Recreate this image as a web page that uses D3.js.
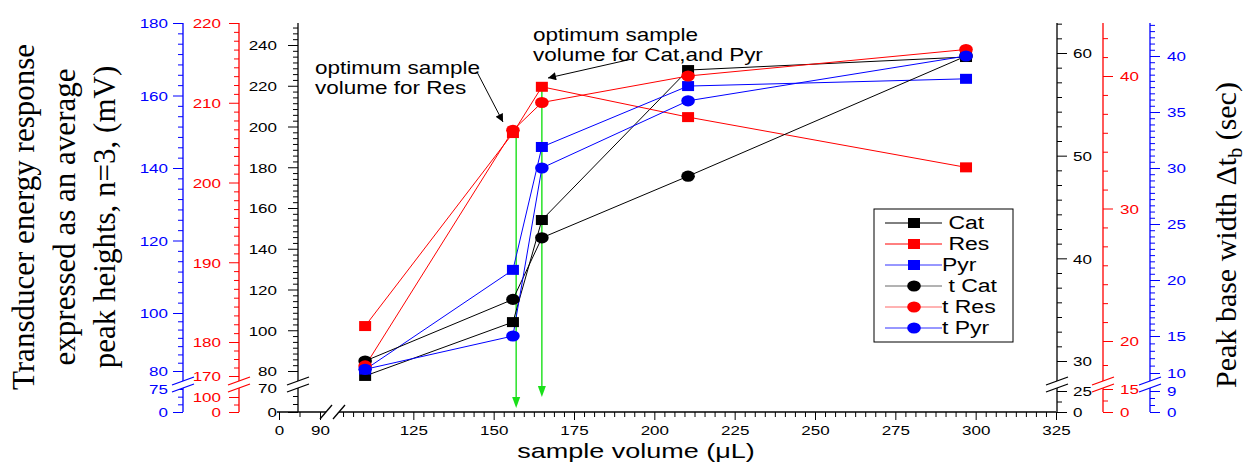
<!DOCTYPE html>
<html>
<head>
<meta charset="utf-8">
<script src="https://cdn.jsdelivr.net/npm/d3@7"></script>
<style>
  body { margin: 0; background: #fff; }
  svg { display: block; }
</style>
</head>
<body>
<svg id="chart" width="1245" height="463"></svg>
<script>
// ---------- data ----------
// sample volumes (µL)
const volumes = [110, 156, 165, 210.5, 297];

// average peak heights, n=3 (mV)
const catHeight = [77.1, 104, 154.1, 227.7, 234.1];
const resHeight = [182.0, 206.2, 212.0, 208.2, 201.9];
const pyrHeight = [80.5, 111.9, 145.8, 162.6, 164.6];

// peak base widths Δtb (sec)
const catWidth = [30, 36, 42, 48, 59.7];
const resWidth = [17.4, 35.9, 38, 40, 42];
const pyrWidth = [10.5, 15, 30, 36, 40];

// optimum sample volumes marked with vertical arrows
const optimumVolumes = [157, 165];

// tick labels
const xTicks = [0, 90, 125, 150, 175, 200, 225, 250, 275, 300, 325];
const catHeightTicks = [0, 70, 80, 100, 120, 140, 160, 180, 200, 220, 240];
const resHeightTicks = [0, 100, 170, 180, 190, 200, 210, 220];
const pyrHeightTicks = [0, 75, 80, 100, 120, 140, 160, 180];
const catWidthTicks = [0, 25, 30, 40, 50, 60];
const resWidthTicks = [0, 15, 20, 30, 40];
const pyrWidthTicks = [0, 9, 10, 15, 20, 25, 30, 35, 40];

const legendLabels = [" Cat", " Res", "Pyr", " t Cat", "t Res", "t Pyr"];

// ---------- layout ----------
const svg = d3.select("#chart");
const yBottom = 412, yTop = 23;
const BLUE = "#0000ff", RED = "#ff0000", BLACK = "#000000";
const SANS = "'Liberation Sans', Arial, sans-serif";
const SERIF = "'Liberation Serif', 'Times New Roman', serif";
const SQUASH = 0.78;   // text in this figure is rendered wide and flat
const breakY = 385;

// x axis: short segment 0–90, break, then 100–325
const x = d3.scaleLinear()
  .domain([0, 90, 100, 325])
  .range([279, 320, 333, 1056]);

// broken y axes, each a piecewise-linear scale
const axes = {
  pyrL: { x: 183, side: "left", color: BLUE, pad: 5, ticks: pyrHeightTicks,
          divs: [3, 1, 7, 7, 7, 7, 7],
          scale: d3.scaleLinear().domain([0, 75, 80, 100, 180]).range([412, 389, 371, 313, 23]) },
  resL: { x: 239, side: "left", color: RED, pad: 8, ticks: resHeightTicks,
          divs: [2, 1, 4, 9, 9, 9, 9],
          scale: d3.scaleLinear().domain([0, 100, 170, 180, 220]).range([412, 397, 376, 342, 23]) },
  catL: { x: 298, side: "left", color: BLACK, pad: 11, ticks: catHeightTicks,
          divs: [3, 1, 7, 7, 7, 7, 7, 7, 7, 7],
          scale: d3.scaleLinear().domain([0, 70, 80, 240]).range([412, 388, 371, 45]) },
  catR: { x: 1057, side: "right", color: BLACK, pad: 6, ticks: catWidthTicks,
          divs: [2, 1, 7, 7, 7],
          scale: d3.scaleLinear().domain([0, 25, 30, 60]).range([412, 391, 361, 53]) },
  resR: { x: 1103, side: "right", color: RED, pad: 7, ticks: resWidthTicks,
          divs: [2, 2, 7, 7],
          scale: d3.scaleLinear().domain([0, 15, 20, 40]).range([412, 389, 341, 76]) },
  pyrR: { x: 1150, side: "right", color: BLUE, pad: 7, ticks: pyrWidthTicks,
          divs: [3, 1, 5, 9, 9, 9, 9, 9],
          scale: d3.scaleLinear().domain([0, 9, 10, 15, 40]).range([412, 391, 373, 336, 56]) }
};

function minorValues(ticks, divs, scale) {
  const out = [];
  for (let i = 0; i < ticks.length - 1; i++) {
    const a = ticks[i], b = ticks[i + 1], n = divs[i];
    for (let k = 1; k < n; k++) out.push(a + (b - a) * k / n);
  }
  // keep stepping above the last labelled tick up to the end of the axis
  const n = divs[divs.length - 1];
  const last = ticks[ticks.length - 1], step = (last - ticks[ticks.length - 2]) / n;
  const topVal = scale.invert(yTop);
  for (let v = last + step; v <= topVal + 1e-6; v += step) out.push(v);
  return out;
}

function squashLabels(sel) {
  sel.selectAll("text")
    .attr("font-family", SANS)
    .attr("font-size", 17)
    .attr("transform", `scale(1,${SQUASH})`)
    .attr("dy", "0.36em");
}

// ---------- y axes ----------
Object.values(axes).forEach(ax => {
  const g = svg.append("g").attr("transform", `translate(${ax.x},0)`).attr("color", ax.color);
  const make = ax.side === "left" ? d3.axisLeft : d3.axisRight;

  g.append("g")
    .call(make(ax.scale).tickValues(minorValues(ax.ticks, ax.divs, ax.scale))
      .tickSize(5).tickSizeOuter(0).tickFormat(""))
    .call(s => s.select(".domain").remove());

  g.append("g")
    .call(make(ax.scale).tickValues(ax.ticks).tickSize(10).tickPadding(ax.pad)
      .tickSizeOuter(0).tickFormat(d3.format("d")))
    .call(s => s.select(".domain").remove())
    .call(squashLabels)
    .call(s => s.selectAll("text").attr("fill", ax.color));

  g.append("line").attr("y1", yBottom).attr("y2", yTop)
    .attr("stroke", ax.color).attr("stroke-width", 1.3);

  // axis break marks
  const brk = g.append("g").attr("transform", `translate(0,${breakY})`);
  brk.append("path").attr("d", "M-11,0 L11,-8 L11,-1 L-11,7 Z").attr("fill", "#fff");
  brk.append("line").attr("x1", -11).attr("y1", 0).attr("x2", 11).attr("y2", -8)
    .attr("stroke", ax.color).attr("stroke-width", 1.3);
  brk.append("line").attr("x1", -11).attr("y1", 7).attr("x2", 11).attr("y2", -1)
    .attr("stroke", ax.color).attr("stroke-width", 1.3);
});

// ---------- x axis ----------
const xMinor = [45].concat(d3.range(0, 72).map(i => 103.125 + i * 3.125))
  .filter(v => v <= 325 && !xTicks.some(t => Math.abs(t - v) < 1e-6));
const gx = svg.append("g").attr("transform", `translate(0,${yBottom})`);
gx.append("g")
  .call(d3.axisBottom(x).tickValues(xMinor).tickSize(5).tickSizeOuter(0).tickFormat(""))
  .call(s => s.select(".domain").remove());
gx.append("g")
  .call(d3.axisBottom(x).tickValues(xTicks).tickSize(8).tickPadding(9).tickSizeOuter(0)
    .tickFormat(d3.format("d")))
  .call(s => s.select(".domain").remove())
  .call(s => s.selectAll("text").attr("font-family", SANS).attr("font-size", 17)
    .attr("transform", `scale(1,${SQUASH})`).attr("dy", "0.71em"));
gx.append("line").attr("x1", 277).attr("x2", 326).attr("stroke", "#000").attr("stroke-width", 1.3);
gx.append("line").attr("x1", 339).attr("x2", x(325)).attr("stroke", "#000").attr("stroke-width", 1.3);
[[320, 332], [333, 345]].forEach(([a, b]) => {
  gx.append("line").attr("x1", a).attr("y1", 7).attr("x2", b).attr("y2", -7)
    .attr("stroke", "#000").attr("stroke-width", 1.3);
});

// ---------- titles ----------
function flatText(parent, tx, ty, str, size, anchor) {
  return parent.append("text")
    .attr("transform", `translate(${tx},${ty}) scale(1,${SQUASH})`)
    .attr("font-family", SANS).attr("font-size", size)
    .attr("text-anchor", anchor || "start").attr("dy", "0.35em")
    .text(str);
}

flatText(svg, 636, 451, "sample volume (\u03BCL)", 27, "middle");

const leftTitle = ["Transducer energy response", "expressed as an average", "peak heights, n=3, (mV)"];
leftTitle.forEach((t, i) => {
  svg.append("text")
    .attr("transform", `translate(${34 + i * 40.5},217) rotate(-90)`)
    .attr("font-family", SERIF).attr("font-size", 31)
    .attr("text-anchor", "middle").text(t);
});

const rt = svg.append("text")
  .attr("transform", "translate(1236,235) rotate(-90)")
  .attr("font-family", SERIF).attr("font-size", 30)
  .attr("text-anchor", "middle");
rt.append("tspan").text("Peak base width \u0394t");
rt.append("tspan").attr("font-size", 20).attr("dy", 6).text("b");
rt.append("tspan").attr("dy", -6).text(" (sec)");

// ---------- series ----------
const series = [
  { values: catHeight, axis: axes.catL, color: BLACK, shape: "square", legendColor: "#000" },
  { values: resHeight, axis: axes.resL, color: RED,   shape: "square", legendColor: "#ff0000" },
  { values: pyrHeight, axis: axes.pyrL, color: BLUE,  shape: "square", legendColor: "#3030ff" },
  { values: catWidth,  axis: axes.catR, color: BLACK, shape: "circle", legendColor: "#666666" },
  { values: resWidth,  axis: axes.resR, color: RED,   shape: "circle", legendColor: "#ff6666" },
  { values: pyrWidth,  axis: axes.pyrR, color: BLUE,  shape: "circle", legendColor: "#3030ff" }
];

// vertical arrows at the optimum volumes
const green = "#19e019";
optimumVolumes.forEach((v, i) => {
  const i0 = volumes.findIndex(u => Math.abs(u - v) < 2);
  const yStart = axes.resL.scale(resHeight[i0]);
  const yEnd = i === 0 ? 408 : 397;
  const px = x(v);
  svg.append("line").attr("x1", px).attr("x2", px).attr("y1", yStart).attr("y2", yEnd - 8)
    .attr("stroke", green).attr("stroke-width", 1.4);
  svg.append("path").attr("d", `M${px - 4},${yEnd - 11} L${px + 4},${yEnd - 11} L${px},${yEnd} Z`)
    .attr("fill", green);
});

const line = d3.line();
series.forEach(s => {
  const pts = volumes.map((v, i) => [x(v), s.axis.scale(s.values[i])]);
  svg.append("path").attr("d", line(pts)).attr("fill", "none")
    .attr("stroke", s.color).attr("stroke-width", 1);
});
series.forEach(s => {
  const pts = volumes.map((v, i) => [x(v), s.axis.scale(s.values[i])]);
  const g = svg.append("g").attr("fill", s.color);
  if (s.shape === "square") {
    g.selectAll("rect").data(pts).join("rect")
      .attr("x", d => d[0] - 6).attr("y", d => d[1] - 5).attr("width", 12).attr("height", 10);
  } else {
    g.selectAll("ellipse").data(pts).join("ellipse")
      .attr("cx", d => d[0]).attr("cy", d => d[1]).attr("rx", 6.8).attr("ry", 5.6);
  }
});

// ---------- annotations ----------
svg.append("defs").append("marker")
  .attr("id", "ah").attr("viewBox", "0 0 10 10").attr("refX", 10).attr("refY", 5)
  .attr("markerWidth", 10).attr("markerHeight", 8).attr("markerUnits", "userSpaceOnUse")
  .attr("orient", "auto")
  .append("path").attr("d", "M0,0 L10,5 L0,10 Z").attr("fill", "#000");

flatText(svg, 315, 68, "optimum sample", 22.5);
flatText(svg, 315, 88, "volume for Res", 22.5);
svg.append("line").attr("x1", 477).attr("y1", 72).attr("x2", 503).attr("y2", 122)
  .attr("stroke", "#000").attr("stroke-width", 1).attr("marker-end", "url(#ah)");

flatText(svg, 533, 35, "optimum sample", 22.5);
flatText(svg, 533, 55, "volume for Cat,and Pyr", 22.5);
svg.append("line").attr("x1", 632).attr("y1", 59).attr("x2", 548).attr("y2", 78)
  .attr("stroke", "#000").attr("stroke-width", 1).attr("marker-end", "url(#ah)");

// ---------- legend ----------
const lg = svg.append("g").attr("transform", "translate(874,209)");
lg.append("rect").attr("width", 139).attr("height", 133)
  .attr("fill", "#fff").attr("stroke", "#000").attr("stroke-width", 1);
series.forEach((s, i) => {
  const ry = 14 + i * 21;
  lg.append("line").attr("x1", 11).attr("x2", 68).attr("y1", ry).attr("y2", ry)
    .attr("stroke", s.legendColor).attr("stroke-width", 1);
  if (s.shape === "square") {
    lg.append("rect").attr("x", 34).attr("y", ry - 5).attr("width", 12).attr("height", 10).attr("fill", s.color);
  } else {
    lg.append("ellipse").attr("cx", 40).attr("cy", ry).attr("rx", 6.8).attr("ry", 5.6).attr("fill", s.color);
  }
  lg.append("text").attr("transform", `translate(68,${ry}) scale(1,${SQUASH})`)
    .attr("font-family", SANS).attr("font-size", 23).attr("dy", "0.35em")
    .attr("xml:space", "preserve").style("white-space", "pre")
    .text(legendLabels[i]);
});
</script>
</body>
</html>
